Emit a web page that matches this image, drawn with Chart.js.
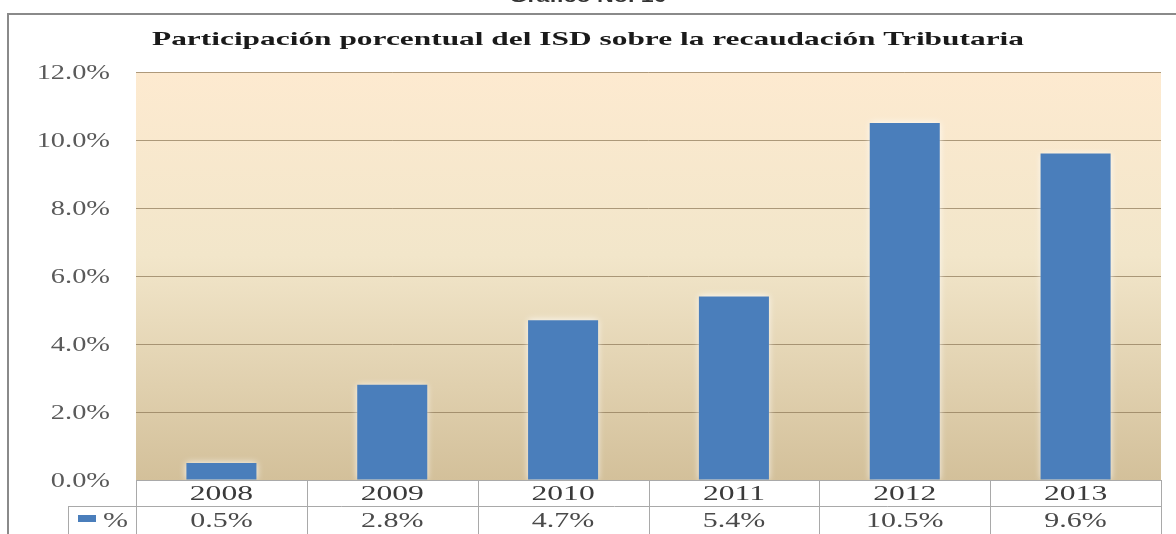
<!DOCTYPE html>
<html>
<head>
<meta charset="utf-8">
<style>
  html, body { margin: 0; padding: 0; background: #fff; }
  #chart { display: block; background: #fff; }
</style>
<script src="https://cdn.jsdelivr.net/npm/chart.js@4/dist/chart.umd.min.js"></script>
</head>
<body>
<canvas id="chart" width="1176" height="534"></canvas>
<script>
'use strict';

// Data
const years = ['2008', '2009', '2010', '2011', '2012', '2013'];
const shares = [0.5, 2.8, 4.7, 5.4, 10.5, 9.6];
const yTicks = [0, 2, 4, 6, 8, 10, 12];
const seriesLabel = '%';
const titleText = 'Participación porcentual del ISD sobre la recaudación Tributaria';
const captionText = 'Gráfico No. 10';

const barColor = '#4A7EBB';
const serif = '"Liberation Serif", "DejaVu Serif", serif';

// the original picture is stretched sideways, so text gets drawn wider than normal
function drawText(ctx, text, x, y, font, color, align, sx) {
  ctx.save();
  ctx.font = font;
  ctx.fillStyle = color;
  ctx.textAlign = 'left';
  ctx.textBaseline = 'alphabetic';
  const w = ctx.measureText(text).width * sx;
  let left = x;
  if (align === 'center') left = x - w / 2;
  if (align === 'right') left = x - w;
  ctx.translate(left, y);
  ctx.scale(sx, 1);
  ctx.fillText(text, 0, 0);
  ctx.restore();
}

function line(ctx, x1, y1, x2, y2) {
  ctx.beginPath();
  ctx.moveTo(x1, y1);
  ctx.lineTo(x2, y2);
  ctx.stroke();
}

const plotBackground = {
  id: 'plotBackground',
  beforeDraw(chart) {
    const { ctx, chartArea: a } = chart;
    const g = ctx.createLinearGradient(0, a.top, 0, a.bottom);
    g.addColorStop(0, '#FDEAD0');
    g.addColorStop(0.45, '#F2E6CA');
    g.addColorStop(1, '#D3C09A');
    ctx.save();
    ctx.fillStyle = g;
    ctx.fillRect(a.left, a.top, a.right - a.left, a.bottom - a.top);
    ctx.restore();
  },
  beforeDatasetsDraw(chart) {
    // soft light halo round the bars
    chart.ctx.save();
    chart.ctx.shadowColor = 'rgba(255,255,255,0.9)';
    chart.ctx.shadowBlur = 7;
  },
  afterDatasetsDraw(chart) {
    chart.ctx.restore();
  }
};

const textAndTable = {
  id: 'textAndTable',
  afterDraw(chart) {
    const { ctx, chartArea: a, scales } = chart;
    const x = scales.x, y = scales.y;

    // outer frame
    ctx.save();
    ctx.strokeStyle = '#8a8a8a';
    ctx.lineWidth = 2;
    ctx.beginPath();
    ctx.moveTo(8, 540);
    ctx.lineTo(8, 14);
    ctx.lineTo(1180, 14);
    ctx.stroke();
    ctx.restore();

    // caption cut off at the top
    drawText(ctx, captionText, 588, 2, 'bold 16px "Liberation Sans", sans-serif', '#333', 'center', 1.45);

    // title, stretched to its width in the picture
    ctx.save();
    ctx.font = 'bold 19px ' + serif;
    const tw = ctx.measureText(titleText).width;
    ctx.restore();
    drawText(ctx, titleText, 152, 45, 'bold 19px ' + serif, '#1a1a1a', 'left', 872 / tw);

    // y tick labels
    yTicks.forEach(v => {
      drawText(ctx, v.toFixed(1) + '%', 110, y.getPixelForValue(v) + 7,
        '20px ' + serif, '#5a5a5a', 'right', 1.42);
    });

    // data table under the plot
    const step = (a.right - a.left) / years.length;
    const rowTop = a.bottom;
    const rowMid = a.bottom + 26;
    const rowBot = 560;
    ctx.save();
    ctx.strokeStyle = '#a9a9a9';
    ctx.lineWidth = 1;
    line(ctx, a.left, rowTop + 0.5, a.right, rowTop + 0.5);
    line(ctx, 68, rowMid + 0.5, a.right, rowMid + 0.5);
    for (let i = 0; i <= years.length; i++) {
      const lx = Math.round(a.left + i * step) + 0.5;
      line(ctx, lx, rowTop, lx, rowBot);
    }
    line(ctx, 68.5, rowMid, 68.5, rowBot);
    ctx.restore();

    years.forEach((yr, i) => {
      const cx = x.getPixelForValue(i);
      drawText(ctx, yr, cx, 500, '20px ' + serif, '#3a3a3a', 'center', 1.58);
      drawText(ctx, shares[i].toFixed(1) + '%', cx, 527, '20px ' + serif, '#4a4a4a', 'center', 1.5);
    });

    // legend key in the table
    ctx.save();
    ctx.fillStyle = barColor;
    ctx.fillRect(78, 515, 18, 7);
    ctx.restore();
    drawText(ctx, seriesLabel, 103, 527, '20px ' + serif, '#555', 'left', 1.5);
  }
};

new Chart(document.getElementById('chart'), {
  type: 'bar',
  data: {
    labels: years,
    datasets: [{
      label: seriesLabel,
      data: shares,
      backgroundColor: barColor,
      borderWidth: 0,
      barPercentage: 0.41,
      categoryPercentage: 1
    }]
  },
  options: {
    responsive: false,
    animation: false,
    layout: { padding: { left: 136, right: 15, top: 72, bottom: 54 } },
    plugins: {
      legend: { display: false },
      title: { display: false },
      tooltip: { enabled: false }
    },
    scales: {
      x: { display: false },
      y: {
        min: 0,
        max: 12,
        ticks: { display: false, stepSize: 2 },
        grid: { color: 'rgba(140,118,85,0.7)', lineWidth: 1, drawTicks: false },
        border: { display: false }
      }
    }
  },
  plugins: [plotBackground, textAndTable]
});
</script>
</body>
</html>
